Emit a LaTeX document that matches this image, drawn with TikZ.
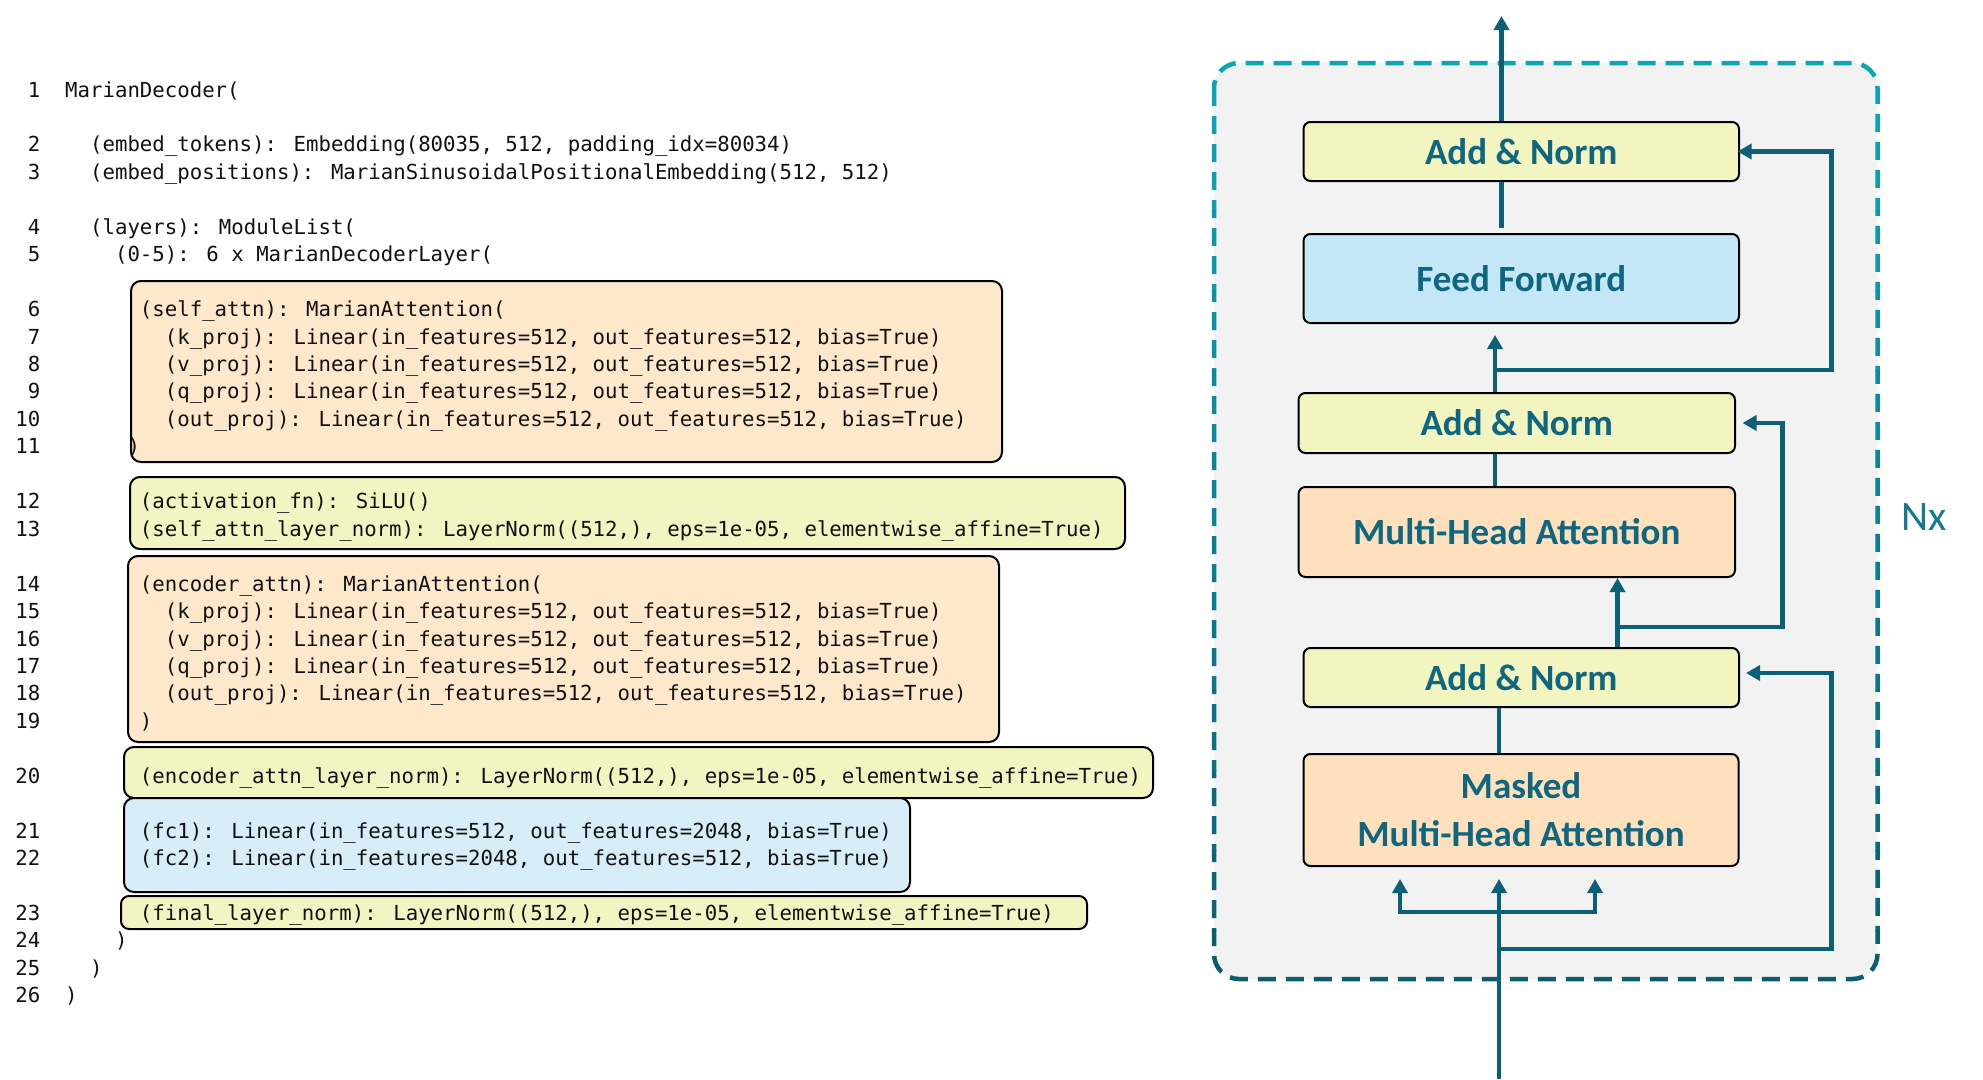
\documentclass[tikz,border=0pt]{standalone}
\usepackage{fontspec}
\setmainfont{Carlito}
\newfontfamily\codefont{DejaVu Sans Mono}
\usetikzlibrary{arrows.meta,calc}

\definecolor{codeink}{HTML}{111111}
\definecolor{peachL}{HTML}{FEE8CC}
\definecolor{limeL}{HTML}{F2F5C2}
\definecolor{skyL}{HTML}{D7EEF9}
\definecolor{peachR}{HTML}{FEE1BC}
\definecolor{limeR}{HTML}{F2F5C0}
\definecolor{skyR}{HTML}{C3E7F6}
\definecolor{flowc}{HTML}{0B6078}
\definecolor{labelc}{HTML}{0F6680}
\definecolor{panel}{HTML}{F2F2F2}
\definecolor{dashtop}{HTML}{0AA6B8}
\definecolor{dashbot}{HTML}{0B5D70}
\definecolor{nxc}{HTML}{137A8F}

% one printed source line: name, line number, row slot, indent (chars), text
\newcommand\codeline[5]{%
  \node[lnum] (n#1) at (40.5,{97+27.45*#3}) {#2};
  \node[code] (#1) at ({65+12.46*#4},{97+27.45*#3}) {\detokenize{#5}};}

\begin{document}
\begin{tikzpicture}[x=1pt,y=-1pt,
  code/.style={font=\codefont\fontsize{20.7}{24}\selectfont, text=codeink, inner sep=0pt, anchor=base west},
  lnum/.style={font=\codefont\fontsize{20.7}{24}\selectfont, text=codeink, inner sep=0pt, anchor=base east},
  codebox/.style={draw=black, line width=2pt, rounded corners=10pt, inner sep=0pt},
  block/.style={draw=black, line width=2pt, rounded corners=7pt, inner sep=0pt,
    minimum width=435.5pt, text=labelc, font=\bfseries\fontsize{37}{48}\selectfont, align=center},
  flow/.style={draw=flowc, line width=4.5pt},
  headtip/.style={-{Triangle[length=14pt,width=15pt]}},
]
\useasboundingbox (0,0) rectangle (1983,1079);
\fill[white] (0,0) rectangle (1983,1079);

% ---------- module listing: coloured groups ----------
\node[codebox, fill=peachL, minimum width=871pt, minimum height=181pt] (gself) at (566.5,371.5) {};
\node[codebox, fill=limeL, minimum width=995pt, minimum height=72pt] (gact) at (627.5,513) {};
\node[codebox, fill=peachL, minimum width=871pt, minimum height=186pt] (genc) at (563.5,649) {};
\node[codebox, fill=limeL, minimum width=1029pt, minimum height=51pt] (gencn) at (638.5,772.5) {};
\node[codebox, fill=skyL, minimum width=786pt, minimum height=94pt] (gfc) at (517,845) {};
\node[codebox, fill=limeL, minimum width=966pt, minimum height=33pt, rounded corners=8pt] (gfin) at (604,912.5) {};

% ---------- module listing: text ----------
\codeline{l1}{1}{0}{0}{MarianDecoder(}
\codeline{l2}{2}{2}{2}{(embed_tokens): Embedding(80035, 512, padding_idx=80034)}
\codeline{l3}{3}{3}{2}{(embed_positions): MarianSinusoidalPositionalEmbedding(512, 512)}
\codeline{l4}{4}{5}{2}{(layers): ModuleList(}
\codeline{l5}{5}{6}{4}{(0-5): 6 x MarianDecoderLayer(}
\codeline{l6}{6}{8}{6}{(self_attn): MarianAttention(}
\codeline{l7}{7}{9}{8}{(k_proj): Linear(in_features=512, out_features=512, bias=True)}
\codeline{l8}{8}{10}{8}{(v_proj): Linear(in_features=512, out_features=512, bias=True)}
\codeline{l9}{9}{11}{8}{(q_proj): Linear(in_features=512, out_features=512, bias=True)}
\codeline{l10}{10}{12}{8}{(out_proj): Linear(in_features=512, out_features=512, bias=True)}
\codeline{l11}{11}{13}{5}{)}
\codeline{l12}{12}{15}{6}{(activation_fn): SiLU()}
\codeline{l13}{13}{16}{6}{(self_attn_layer_norm): LayerNorm((512,), eps=1e-05, elementwise_affine=True)}
\codeline{l14}{14}{18}{6}{(encoder_attn): MarianAttention(}
\codeline{l15}{15}{19}{8}{(k_proj): Linear(in_features=512, out_features=512, bias=True)}
\codeline{l16}{16}{20}{8}{(v_proj): Linear(in_features=512, out_features=512, bias=True)}
\codeline{l17}{17}{21}{8}{(q_proj): Linear(in_features=512, out_features=512, bias=True)}
\codeline{l18}{18}{22}{8}{(out_proj): Linear(in_features=512, out_features=512, bias=True)}
\codeline{l19}{19}{23}{6}{)}
\codeline{l20}{20}{25}{6}{(encoder_attn_layer_norm): LayerNorm((512,), eps=1e-05, elementwise_affine=True)}
\codeline{l21}{21}{27}{6}{(fc1): Linear(in_features=512, out_features=2048, bias=True)}
\codeline{l22}{22}{28}{6}{(fc2): Linear(in_features=2048, out_features=512, bias=True)}
\codeline{l23}{23}{30}{6}{(final_layer_norm): LayerNorm((512,), eps=1e-05, elementwise_affine=True)}
\codeline{l24}{24}{31}{4}{)}
\codeline{l25}{25}{32}{2}{)}
\codeline{l26}{26}{33}{0}{)}

% ---------- decoder layer: repeated panel ----------
\fill[panel, rounded corners=25pt] (1214,63) rectangle (1877.5,979);
\foreach \k in {0,...,11} {
  \pgfmathtruncatemacro\pc{100-\k*100/11}
  \colorlet{bandc}{dashtop!\pc!dashbot}
  \begin{scope}
    \clip (1180,{50+\k*80}) rectangle (1910,{50+(\k+1)*80});
    \draw[bandc, line width=4.5pt, dash pattern=on 18pt off 10pt, rounded corners=25pt]
      (1214,63) rectangle (1877.5,979);
  \end{scope}
}

% ---------- decoder layer: blocks ----------
\node[block, fill=limeR, minimum height=59pt] (an1) at (1521.25,151.5) {Add \& Norm};
\node[block, fill=skyR, minimum height=89pt] (ff) at (1521.25,278.5) {Feed Forward};
\node[block, fill=limeR, minimum height=60pt, minimum width=436.5pt] (an2) at (1516.75,423) {Add \& Norm};
\node[block, fill=peachR, minimum height=90pt, minimum width=436.5pt] (mha) at (1516.75,532) {Multi-Head Attention};
\node[block, fill=limeR, minimum height=59pt] (an3) at (1521.25,677.5) {Add \& Norm};
\node[block, fill=peachR, minimum height=112pt, minimum width=435pt] (mmha) at (1521,810) {Masked\\Multi-Head Attention};

\node[font=\fontsize{42}{50}\selectfont, text=nxc, anchor=base west, inner sep=0pt] (nx) at (1901,530) {Nx};

% ---------- decoder layer: data flow ----------
\coordinate (outtip) at (1501.5,16);
\draw[flow, headtip] (an1.north -| outtip) -- (outtip);
\draw[flow] (an1.south -| outtip) -- ($(ff.north -| outtip)+(0,-5)$);

\coordinate (ffin) at (1495,335);
\draw[flow, headtip] (an2.north -| ffin) -- (ffin);
\coordinate (res2) at (1831.5,370);
\draw[flow, headtip, shorten >=-2.5pt] (ffin |- res2) -- (res2) -- (res2 |- an1.east) -- (an1.east);

\draw[flow] (mha.north -| ffin) -- (an2.south -| ffin);

\coordinate (mhain) at (1617.5,578);
\draw[flow, headtip] (an3.north -| mhain) -- (mhain);
\coordinate (res1) at (1782.5,627);
\draw[flow, headtip, shorten >=6.5pt] (mhain |- res1) -- (res1) -- (res1 |- an2.east) -- (an2.east);

\coordinate (inbot) at (1499,1079);
\draw[flow] (an3.south -| inbot) -- (mmha.north -| inbot);
\coordinate (mmhain) at (1499,879);
\draw[flow, headtip] (inbot) -- (mmhain);
\coordinate (kin) at (1400,879);
\coordinate (vin) at (1595,879);
\coordinate (split) at (1499,912);
\draw[flow, {Triangle[length=14pt,width=15pt]}-{Triangle[length=14pt,width=15pt]}]
  (kin) -- (kin |- split) -- (vin |- split) -- (vin);
\coordinate (res0) at (1831.5,949);
\coordinate (an3r) at ($(an3.east)+(0,-4.5)$);
\draw[flow, headtip, shorten >=6pt] (inbot |- res0) -- (res0) -- (res0 |- an3r) -- (an3r);
\end{tikzpicture}
\end{document}
